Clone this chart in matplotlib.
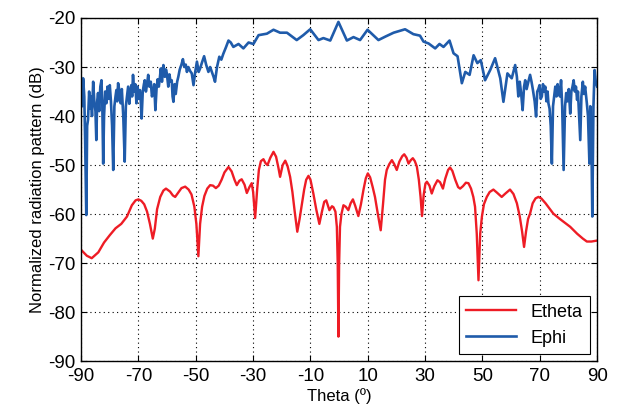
import matplotlib
matplotlib.use("Agg")
import matplotlib.pyplot as plt

plt.rcParams['font.family'] = ['Liberation Sans', 'DejaVu Sans']
plt.rcParams['axes.unicode_minus'] = False

# Etheta (red)
theta_e = [-90, -88, -86.3, -84, -82, -80, -78, -76, -74, -72.3,
           -71, -70, -69, -68, -67, -66, -65, -64.3, -63.5, -62.4,
           -61.3, -60.4, -59, -58, -57.2, -56, -55, -53.7, -52.5, -51.5,
           -50.5, -49.8, -49.1, -48.5, -47.8, -47, -46, -45, -44, -43,
           -42, -41, -40, -38.6, -37.5, -36.5, -35.7, -34.8, -34, -33,
           -32.2, -31.3, -30.5, -30, -29.3, -28.6, -28, -27.3, -26.4, -25.7,
           -25, -24, -22.9, -22, -21.2, -20.6, -19.7, -18.8, -18, -17.1,
           -16.3, -15.5, -14.6, -13.8, -13, -12.2, -11.5, -10.7, -10, -9,
           -8, -6.9, -6, -5.2, -4.5, -3.4, -2.5, -2, -1.3, -0.8,
           -0.5, -0.25, 0, 0.3, 0.8, 1.5, 2.3, 3.2, 4, 4.8,
           5.6, 6.7, 7.6, 8.5, 9.3, 10, 10.8, 11.7, 12.5, 13.5,
           14.5, 15.3, 16, 16.6, 17.5, 18.4, 19.2, 20.1, 21, 22,
           22.7, 23.5, 24.2, 25, 25.7, 26.4, 27.1, 27.8, 28.4, 28.9,
           29.5, 30.1, 30.6, 31.5, 32.3, 33.2, 34.3, 35.2, 36.2, 37,
           38, 38.7, 39.5, 40.5, 41.5, 42.2, 43.2, 44.2, 45.1, 46,
           46.8, 47.4, 48, 48.6, 49.2, 49.8, 50.5, 51.5, 52.5, 53.8,
           55, 56.7, 58, 59.6, 60.8, 62, 63, 63.8, 64.5, 65.2,
           65.9, 66.6, 67.5, 68.5, 69.5, 70.5, 72, 74.7, 77, 80.6,
           83, 85, 86.4, 88, 90]
etheta = [-67.3, -68.5, -69, -67.8, -65.8, -64.3, -62.9, -62, -60.5, -58.2,
          -57.2, -57, -57.3, -58, -59.5, -62, -65, -63, -59, -56.5,
          -55.2, -54.8, -55.4, -56.2, -56.5, -55.5, -54.7, -54.4, -55, -56,
          -58.5, -62, -68.6, -62, -58.5, -56.3, -54.8, -54.1, -54.2, -54.7,
          -54.2, -53, -51.5, -50.4, -51.3, -53, -54.1, -53.2, -52.9, -54,
          -55.7, -54.5, -53.7, -55.5, -60.8, -55, -51, -49.2, -48.8, -49.6,
          -50, -48.5, -47.3, -48.3, -50.5, -52.4, -50, -49.1, -50.2, -52.4,
          -55.5, -59.5, -63.6, -61, -58, -55, -53, -52.2, -53, -55.8,
          -59, -62, -59.5, -57.5, -57.2, -59.2, -58.4, -58.6, -59.5, -62.6,
          -70, -85, -70, -62.6, -60, -58.2, -58.5, -59.2, -57.8, -57,
          -58.3, -60.4, -58, -55, -52.7, -51.7, -52.5, -54.5, -56.5, -60,
          -63.3, -58, -53, -51, -49.8, -49, -49.8, -51, -49.3, -48.2,
          -47.8, -48.5, -49.7, -49, -48.6, -49.2, -50.3, -53, -56.5, -60.4,
          -56, -53.8, -53.4, -54.2, -55.8, -54.3, -53.1, -53.5, -54.8, -52.8,
          -51, -50.5, -51.2, -53, -54.5, -54.8, -54.3, -53.6, -53.7, -54.8,
          -56.5, -58.5, -64, -73.5, -64, -60.5, -58, -56.5, -55.5, -55,
          -55.6, -56.5, -55.8, -55, -55.9, -57.8, -60.5, -63.5, -66.7, -63.5,
          -61, -59.9, -57.8, -56.8, -56.5, -56.8, -57.8, -59.9, -61, -62.6,
          -64, -65, -65.6, -65.6, -65.4]

# Ephi (blue)
theta_p = [-90, -89.6, -89.3, -88.9, -88.6, -88.2, -87.9, -87.6, -87.2, -86.9,
           -86.6, -86.2, -85.8, -85.4, -85, -84.7, -84.4, -84.1, -83.7, -83.3,
           -82.9, -82.6, -82.3, -82, -81.6, -81.2, -80.8, -80.4, -80, -79.6,
           -79.2, -78.8, -78.4, -78, -77.7, -77.4, -77.1, -76.6, -76.2, -75.8,
           -75.3, -74.8, -74.4, -74, -73.6, -73.2, -72.8, -72.5, -72.2, -71.9,
           -71.5, -71.1, -70.7, -70.3, -69.9, -69.5, -69.2, -68.9, -68.5, -68.1,
           -67.8, -67.4, -67, -66.6, -66.2, -65.7, -65.3, -64.9, -64.5, -64.1,
           -63.7, -63.3, -62.9, -62.5, -62.2, -61.8, -61.3, -60.8, -60.4, -60.1,
           -59.6, -59.2, -58.8, -58.4, -58.1, -57.8, -57.4, -57, -56.5, -56.1,
           -55.6, -55, -54.5, -54, -53.5, -53.1, -52.6, -52, -51.4, -51.1,
           -50.8, -50.2, -49.6, -49, -48.5, -47.8, -47.1, -46.4, -45.6, -45,
           -44.4, -43.8, -43.3, -42.6, -41.8, -41.1, -40.4, -39.5, -38.6, -37.8,
           -36.9, -35.1, -33.4, -31.6, -29.9, -28.1, -25.2, -22.9, -20.6, -18.2,
           -14.8, -12.5, -10.1, -7.2, -5.5, -3.1, -0.25, 2.7, 5, 7.3,
           9.9, 13.7, 16.1, 19, 23, 25.9, 28.2, 29.4, 31.2, 33.5,
           35, 36.4, 38.5, 39.9, 41.3, 42.8, 44, 45.5, 46.9, 48.2,
           49.4, 50.9, 52.7, 54.4, 56.2, 57.3, 58.7, 60.2, 61.4, 62,
           62.5, 63, 63.5, 64, 64.5, 64.9, 65.4, 66, 66.6, 67.1,
           67.6, 68.2, 68.7, 69.1, 69.5, 69.9, 70.3, 70.7, 71.1, 71.5,
           71.9, 72.3, 72.7, 73, 73.4, 73.8, 74.2, 74.6, 75, 75.4,
           75.8, 76.2, 76.5, 77, 77.4, 77.8, 78.3, 78.8, 79.2, 79.6,
           80.1, 80.6, 81, 81.4, 81.8, 82.2, 82.6, 83, 83.3, 83.7,
           84.1, 84.5, 85, 85.4, 85.8, 86.4, 86.8, 87.3, 87.6, 88,
           88.3, 88.7, 89.1, 89.5, 90]
ephi = [-32.5, -38, -32.3, -36, -45, -60.2, -42, -40.8, -35, -38.5,
        -36, -40, -33, -37, -39, -44.9, -37, -35.3, -39, -34,
        -32.7, -38, -49.7, -40, -35, -37.4, -34, -36.5, -33.7, -37,
        -42, -51, -38, -36, -34.7, -37, -33.3, -35, -37.4, -34.5,
        -40, -49.3, -38, -36, -34, -37.5, -35, -33.7, -36, -31.6,
        -35, -33.5, -37.4, -34, -36.5, -34.7, -37, -40.5, -35, -33.5,
        -32.7, -35, -33.5, -31.6, -34, -33, -36, -35.3, -33.5, -38.8,
        -34.5, -32.5, -34, -32, -30.3, -33, -29.6, -32, -30.5, -31.3,
        -34, -31.5, -33, -32.7, -36, -37.1, -33.5, -35.5, -33, -32,
        -30.5, -29.5, -28.4, -30, -29.5, -31, -30, -30.8, -31.3, -32.5,
        -33.7, -31, -28.9, -31, -30.3, -29, -27.8, -29.5, -31, -30,
        -31, -32, -33, -30, -27.9, -28.5, -27.3, -26, -24.6, -25,
        -25.9, -25.3, -26.2, -25, -25.3, -23.5, -23.2, -22.4, -23, -23,
        -24.5, -23.5, -22.3, -24.5, -24.1, -24.6, -20.8, -24.6, -23.9, -24.5,
        -22.4, -24.5, -23.8, -23, -22.3, -23.3, -23.6, -24.8, -25.2, -26.2,
        -25.3, -25.9, -24.6, -27.2, -27.8, -33.3, -31, -31.6, -27.6, -29.2,
        -28.6, -32.7, -30.6, -28.2, -32.3, -37.1, -31.3, -32.3, -29.6, -32,
        -36, -33, -35.5, -38.8, -34, -32.7, -34.5, -33, -31.6, -33,
        -34.7, -37, -40.1, -35, -34.5, -33.7, -36.5, -36, -33.5, -35,
        -34, -37, -35, -37.4, -38.5, -42, -49.7, -38, -36, -34,
        -36, -33.5, -34.7, -36, -32.7, -38, -51, -38, -35.3, -37,
        -34.5, -39.5, -35, -34, -32.7, -35, -34, -36.7, -35, -40,
        -44.9, -36, -33, -35.5, -34, -37.4, -40, -49.7, -38, -45,
        -60.5, -38, -30.6, -33, -34]

xticks = [-90, -70, -50, -30, -10, 10, 30, 50, 70, 90]
yticks = [-90, -80, -70, -60, -50, -40, -30, -20]

fig = plt.figure(figsize=(6.24, 4.09), dpi=100)
ax = fig.add_axes([0.13, 0.117, 0.827, 0.839])

ax.plot(theta_e, etheta, color='#EE1C25', lw=1.7, label='Etheta')
ax.plot(theta_p, ephi, color='#1F5BAA', lw=1.9, label='Ephi')

ax.set_xlim(-90, 90)
ax.set_ylim(-90, -20)
ax.set_xticks(xticks)
ax.set_yticks(yticks)
ax.tick_params(direction='in', top=True, right=True, labelsize=13.5, length=4)
ax.tick_params(axis='x', pad=5)
ax.tick_params(axis='y', pad=4)
ax.grid(True, color='black', linestyle=(0, (1, 3)), linewidth=0.8)
for s in ax.spines.values():
    s.set_linewidth(1.0)

ax.set_xlabel('Theta (º)', fontsize=12, labelpad=2)
ax.set_ylabel('Normalized radiation pattern (dB)', fontsize=12, labelpad=2)

leg = ax.legend(loc='lower right', fontsize=13, fancybox=False, framealpha=1,
                edgecolor='black', handlelength=2.8, borderaxespad=0.4)
leg.get_frame().set_linewidth(0.8)

fig.savefig('out.png', dpi=100)
